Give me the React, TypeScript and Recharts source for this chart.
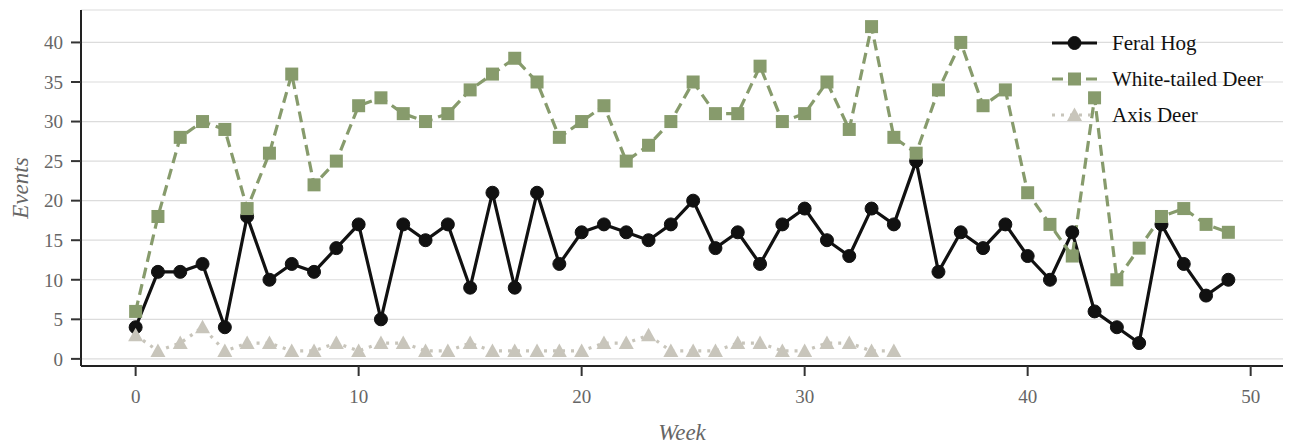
import React from 'react';
import { LineChart, Line, XAxis, YAxis, CartesianGrid, Legend } from 'recharts';

const weeks = [0, 1, 2, 3, 4, 5, 6, 7, 8, 9, 10, 11, 12, 13, 14, 15, 16, 17, 18, 19, 20, 21, 22, 23, 24, 25, 26, 27, 28, 29, 30, 31, 32, 33, 34, 35, 36, 37, 38, 39, 40, 41, 42, 43, 44, 45, 46, 47, 48, 49];
const feralHog = [4, 11, 11, 12, 4, 18, 10, 12, 11, 14, 17, 5, 17, 15, 17, 9, 21, 9, 21, 12, 16, 17, 16, 15, 17, 20, 14, 16, 12, 17, 19, 15, 13, 19, 17, 25, 11, 16, 14, 17, 13, 10, 16, 6, 4, 2, 17, 12, 8, 10];
const whiteTailedDeer = [6, 18, 28, 30, 29, 19, 26, 36, 22, 25, 32, 33, 31, 30, 31, 34, 36, 38, 35, 28, 30, 32, 25, 27, 30, 35, 31, 31, 37, 30, 31, 35, 29, 42, 28, 26, 34, 40, 32, 34, 21, 17, 13, 33, 10, 14, 18, 19, 17, 16];
const axisDeer = [3, 1, 2, 4, 1, 2, 2, 1, 1, 2, 1, 2, 2, 1, 1, 2, 1, 1, 1, 1, 1, 2, 2, 3, 1, 1, 1, 2, 2, 1, 1, 2, 2, 1, 1];
const xTicks = [0, 10, 20, 30, 40, 50];
const yTicks = [0, 5, 10, 15, 20, 25, 30, 35, 40];

const data = weeks.map((w, i) => ({
  week: w,
  hog: feralHog[i],
  wtd: whiteTailedDeer[i],
  axis: i < axisDeer.length ? axisDeer[i] : null,
}));

const FONT = '"Liberation Serif", "Times New Roman", serif';

const SERIES: Record<string, { name: string; color: string; dash?: string; shape: string }> = {
  hog: { name: 'Feral Hog', color: '#111111', shape: 'circle' },
  wtd: { name: 'White-tailed Deer', color: '#879b6c', dash: '11 6', shape: 'square' },
  axis: { name: 'Axis Deer', color: '#c8c5bb', dash: '3 6', shape: 'triangle' },
};

function marker(shape: string, cx: number, cy: number, color: string, key?: string) {
  if (shape === 'circle') return <circle key={key} cx={cx} cy={cy} r={6.5} fill={color} stroke={color} strokeWidth={1} />;
  if (shape === 'square') return <rect key={key} x={cx - 6.5} y={cy - 6.5} width={13} height={13} fill={color} />;
  return <polygon key={key} points={`${cx},${cy - 7.5} ${cx - 7.5},${cy + 6} ${cx + 7.5},${cy + 6}`} fill={color} />;
}

const makeDot = (k: string) => (props: any) => {
  const s = SERIES[k];
  const key = `${k}-${props.index}`;
  if (props.cx == null || props.cy == null || props.value == null) return <g key={key} />;
  return marker(s.shape, props.cx, props.cy, s.color, key);
};

const renderLegend = () => (
  <div style={{ fontFamily: FONT, fontSize: 21, color: '#111' }}>
    {['hog', 'wtd', 'axis'].map((k) => {
      const s = SERIES[k];
      return (
        <div key={k} style={{ display: 'flex', alignItems: 'center', height: 36 }}>
          <svg width={62} height={36} style={{ display: 'block' }}>
            <line x1={2} x2={47} y1={18} y2={18} stroke={s.color} strokeWidth={3.2} strokeDasharray={s.dash} />
            {marker(s.shape, 24.5, 18, s.color)}
          </svg>
          <span style={{ whiteSpace: 'nowrap', fontFamily: FONT }}>{s.name}</span>
        </div>
      );
    })}
  </div>
);

const yLabel = (props: any) => {
  const vb = props.viewBox;
  const cy = vb.y + vb.height / 2;
  return (
    <text x={28} y={cy} transform={`rotate(-90, 28, ${cy})`} textAnchor="middle" fill="#666" fontStyle="italic" fontSize={23} fontFamily={FONT}>
      Events
    </text>
  );
};

const xLabel = (props: any) => {
  const vb = props.viewBox;
  const cx = vb.x + vb.width / 2;
  return (
    <text x={cx} y={440} textAnchor="middle" fill="#666" fontStyle="italic" fontSize={23} fontFamily={FONT}>
      Week
    </text>
  );
};

export default function App() {
  return (
    <div style={{ position: 'absolute', left: 0, top: 0, width: 1290, height: 445, background: '#fff' }}>
      <LineChart width={1290} height={445} data={data} margin={{ top: 10, right: 7, left: 0, bottom: 0 }}>
        <CartesianGrid horizontal vertical={false} stroke="#dcdcdc" strokeWidth={1.2} />
        <XAxis
          dataKey="week"
          type="number"
          domain={[-2.45, 51.45]}
          allowDataOverflow
          ticks={xTicks}
          height={79}
          tickSize={10}
          tickMargin={14}
          axisLine={{ stroke: '#222', strokeWidth: 2 }}
          tickLine={{ stroke: '#333', strokeWidth: 2 }}
          tick={{ fill: '#666', fontSize: 19, fontFamily: FONT }}
          label={{ content: xLabel }}
        />
        <YAxis
          type="number"
          domain={[-0.9, 44.1]}
          allowDataOverflow
          ticks={yTicks}
          width={81}
          tickSize={10}
          tickMargin={8}
          axisLine={{ stroke: '#222', strokeWidth: 2 }}
          tickLine={{ stroke: '#333', strokeWidth: 2 }}
          tick={{ fill: '#666', fontSize: 19, fontFamily: FONT }}
          label={{ content: yLabel }}
        />
        <Line type="linear" dataKey="hog" name="Feral Hog" stroke="#111111" strokeWidth={3.2} dot={makeDot('hog')} activeDot={false} isAnimationActive={false} />
        <Line type="linear" dataKey="wtd" name="White-tailed Deer" stroke="#879b6c" strokeWidth={3.2} strokeDasharray="11 6" dot={makeDot('wtd')} activeDot={false} isAnimationActive={false} />
        <Line type="linear" dataKey="axis" name="Axis Deer" stroke="#c8c5bb" strokeWidth={3.2} strokeDasharray="3 6" dot={makeDot('axis')} activeDot={false} isAnimationActive={false} />
        <Legend
          content={renderLegend}
          layout="vertical"
          verticalAlign="middle"
          align="center"
          wrapperStyle={{ position: 'absolute', left: 1050, top: 25, width: 240, right: 'auto', bottom: 'auto', margin: 0 }}
        />
      </LineChart>
    </div>
  );
}
